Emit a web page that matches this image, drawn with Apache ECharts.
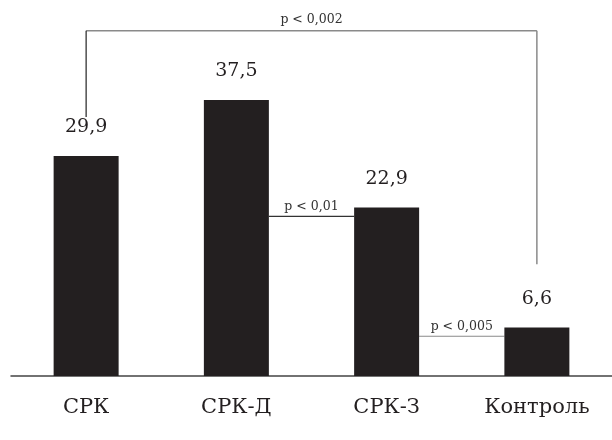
<!DOCTYPE html>
<html>
<head>
<meta charset="utf-8">
<script src="https://cdn.jsdelivr.net/npm/echarts@6/dist/echarts.min.js"></script>
<style>
  html, body { margin: 0; padding: 0; background: #fff; }
  #chart { width: 612px; height: 440px; }
</style>
</head>
<body>
<div id="chart"></div>
<script>
var categories = ['СРК', 'СРК-Д', 'СРК-З', 'Контроль'];
var values = [29.9, 37.5, 22.9, 6.6];

// significance brackets: between bar centres (long one) or bar edges (short ones)
var bigBracket = { from: 0, to: 3, top: 46.9, leftEnd: 35.2, rightEnd: 15.2, text: 'p < 0,002' };
var shortLinks = [
   { from: 1, to: 2, level: 21.7, text: 'p < 0,01', color: '#333' },
   { from: 2, to: 3, level: 5.4, text: 'p < 0,005', color: '#8a8a8a' }
];

var serif = 'DejaVu Serif';
var barWidth = 65;

var chart = echarts.init(document.getElementById('chart'), null, { renderer: 'canvas' });

chart.setOption({
   animation: false,
   textStyle: { fontFamily: serif },
   grid: { left: 11, right: 0, top: 8, bottom: 64 },
   xAxis: {
      type: 'category',
      data: categories,
      axisLine: { lineStyle: { color: '#444', width: 1.5 } },
      axisTick: { show: false },
      axisLabel: { fontFamily: serif, fontSize: 21, color: '#231f20', margin: 21 }
   },
   yAxis: { type: 'value', min: 0, max: 50, show: false },
   series: [{
      type: 'bar',
      data: values,
      barWidth: barWidth,
      itemStyle: { color: '#231f20' },
      label: {
         show: true,
         position: 'top',
         distance: 19,
         fontFamily: serif,
         fontSize: 19,
         color: '#231f20',
         formatter: function (p) { return String(p.value).replace('.', ','); }
      }
   }]
});

function px(i, v) {
   return chart.convertToPixel({ gridIndex: 0 }, [i, v]);
}

var g = [];
var a = px(bigBracket.from, bigBracket.top);
var b = px(bigBracket.to, bigBracket.top);
var aEnd = px(bigBracket.from, bigBracket.leftEnd);
var bEnd = px(bigBracket.to, bigBracket.rightEnd);
g.push({ type: 'line', shape: { x1: a[0], y1: a[1], x2: b[0], y2: b[1] }, style: { stroke: '#8a8a8a', lineWidth: 1.5 } });
g.push({ type: 'line', shape: { x1: a[0], y1: a[1], x2: aEnd[0], y2: aEnd[1] }, style: { stroke: '#222', lineWidth: 1.2 } });
g.push({ type: 'line', shape: { x1: b[0], y1: b[1], x2: bEnd[0], y2: bEnd[1] }, style: { stroke: '#8a8a8a', lineWidth: 1.5 } });
g.push({
   type: 'text',
   x: (a[0] + b[0]) / 2, y: a[1] - 5,
   style: { text: bigBracket.text, fontFamily: serif, fontSize: 12.5, fill: '#333', align: 'center', verticalAlign: 'bottom' }
});

shortLinks.forEach(function (s) {
   var p1 = px(s.from, s.level);
   var p2 = px(s.to, s.level);
   var x1 = p1[0] + barWidth / 2;
   var x2 = p2[0] - barWidth / 2;
   g.push({ type: 'line', shape: { x1: x1, y1: p1[1], x2: x2, y2: p2[1] }, style: { stroke: s.color, lineWidth: 1.2 } });
   g.push({
      type: 'text',
      x: (x1 + x2) / 2, y: p1[1] - 3,
      style: { text: s.text, fontFamily: serif, fontSize: 12.5, fill: '#333', align: 'center', verticalAlign: 'bottom' }
   });
});

chart.setOption({ graphic: g });
</script>
</body>
</html>
